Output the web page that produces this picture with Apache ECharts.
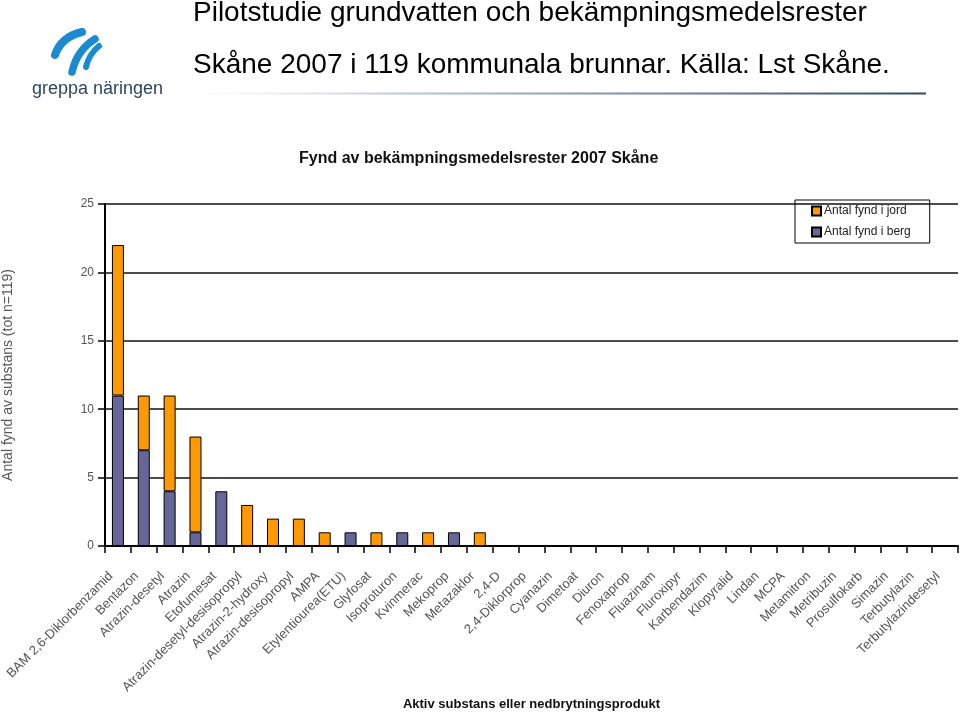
<!DOCTYPE html>
<html>
<head>
<meta charset="utf-8">
<script src="https://cdn.jsdelivr.net/npm/echarts@6/dist/echarts.min.js"></script>
<style>
html,body{margin:0;padding:0;background:#fff;}
#chart{width:960px;height:714px;}
</style>
</head>
<body>
<div id="chart"></div>
<script>
var categories = [
  'BAM 2,6-Diklorbenzamid','Bentazon','Atrazin-desetyl','Atrazin','Etofumesat',
  'Atrazin-desetyl-desisopropyl','Atrazin-2-hydroxy','Atrazin-desisopropyl','AMPA',
  'Etylentiourea(ETU)','Glyfosat','Isoproturon','Kvinmerac','Mekoprop','Metazaklor',
  '2,4-D','2,4-Diklorprop','Cyanazin','Dimetoat','Diuron','Fenoxaprop','Fluazinam',
  'Fluroxipyr','Karbendazim','Klopyralid','Lindan','MCPA','Metamitron','Metribuzin',
  'Prosulfokarb','Simazin','Terbutylazin','Terbutylazindesetyl'
];
var jord = [11,4,7,7,0,3,2,2,1,0,1,0,1,0,1,0,0,0,0,0,0,0,0,0,0,0,0,0,0,0,0,0,0];
var berg = [11,7,4,1,4,0,0,0,0,1,0,1,0,1,0,0,0,0,0,0,0,0,0,0,0,0,0,0,0,0,0,0,0];
var yTicks = [0,5,10,15,20,25];

var FONT = "'Liberation Sans', Arial, sans-serif";
function nz(a){ return a.map(function(v){ return v === 0 ? '-' : v; }); }

var chart = echarts.init(document.getElementById('chart'), null, {renderer:'canvas'});
var option = {
  backgroundColor:'#fff',
  animation:false,
  textStyle:{fontFamily:FONT},
  title:[
    {text:'Fynd av bekämpningsmedelsrester 2007 Skåne', left:294, top:146,
     textStyle:{fontFamily:FONT, fontSize:16, fontWeight:'bold', color:'#111'}},
    {text:'Pilotstudie grundvatten och bekämpningsmedelsrester', left:193, top:-1, padding:0,
     textStyle:{fontFamily:FONT, fontSize:28, fontWeight:'normal', color:'#000'}},
    {text:'Skåne 2007 i 119 kommunala brunnar. Källa: Lst Skåne.', left:193, top:51, padding:0,
     textStyle:{fontFamily:FONT, fontSize:28, fontWeight:'normal', color:'#000'}}
  ],
  legend:{
    orient:'vertical', left:795, top:200,
    data:['Antal fynd i jord','Antal fynd i berg'],
    itemWidth:9, itemHeight:9, itemGap:9,
    padding:[5,19,5,16],
    borderColor:'#000', borderWidth:1,
    textStyle:{fontFamily:FONT, fontSize:12, color:'#222', padding:[0,0,0,-2]},
    icon:'rect'
  },
  grid:{left:105, right:2, top:204, bottom:168, containLabel:false, outerBoundsMode:'none'},
  xAxis:{
    type:'category', data:categories,
    name:'Aktiv substans eller nedbrytningsprodukt',
    nameLocation:'middle', nameGap:152,
    nameTextStyle:{fontFamily:FONT, fontSize:13, fontWeight:'bold', color:'#111'},
    axisLine:{lineStyle:{color:'#000', width:2}},
    axisTick:{show:true, length:7, lineStyle:{color:'#000', width:1.5}},
    axisLabel:{interval:0, rotate:45, margin:21, padding:[0,10,0,0], fontFamily:FONT, fontSize:13, color:'#555'}
  },
  yAxis:{
    type:'value', min:yTicks[0], max:yTicks[yTicks.length-1], interval:yTicks[1]-yTicks[0],
    name:'Antal fynd av substans (tot n=119)',
    nameLocation:'middle', nameGap:90, nameRotate:90,
    nameTextStyle:{fontFamily:FONT, fontSize:14, color:'#555'},
    axisLine:{show:true, lineStyle:{color:'#000', width:2}},
    axisTick:{show:true, length:7, inside:false, lineStyle:{color:'#000', width:1.5}},
    axisLabel:{margin:11, fontFamily:FONT, fontSize:12, color:'#555'},
    splitLine:{show:true, lineStyle:{color:'#111', width:1.5}}
  },
  series:[
    {name:'Antal fynd i berg', type:'bar', stack:'tot', data:nz(berg), barWidth:12,
     itemStyle:{color:'#666699', borderColor:'#000', borderWidth:1}},
    {name:'Antal fynd i jord', type:'bar', stack:'tot', data:nz(jord), barWidth:12,
     itemStyle:{color:'#FF9900', borderColor:'#000', borderWidth:1}}
  ],
  graphic:[
    {type:'line', shape:{x1:190, y1:93.5, x2:926, y2:93.5},
     style:{lineWidth:2, stroke:{type:'linear', x:0, y:0, x2:1, y2:0, colorStops:[
       {offset:0, color:'rgba(210,225,235,0)'},
       {offset:0.3, color:'#b5c8d6'},
       {offset:1, color:'#2e4866'}]}}},
    {type:'bezierCurve', shape:{x1:55, y1:55, cpx1:61, cpy1:37, x2:82, y2:32}, style:{fill:null, stroke:'#1b8bd1', lineWidth:8, lineCap:'round'}},
    {type:'bezierCurve', shape:{x1:72, y1:72, cpx1:77, cpy1:50, x2:95, y2:39}, style:{fill:null, stroke:'#1b8bd1', lineWidth:7.5, lineCap:'round'}},
    {type:'bezierCurve', shape:{x1:86, y1:67, cpx1:89, cpy1:54, x2:99, y2:46}, style:{fill:null, stroke:'#1b8bd1', lineWidth:6, lineCap:'round'}},
    {type:'text', left:32, top:80, style:{text:'greppa näringen', font:'18px ' + FONT, fill:'#2d4763'}}
  ]
};
chart.setOption(option);
</script>
</body>
</html>
